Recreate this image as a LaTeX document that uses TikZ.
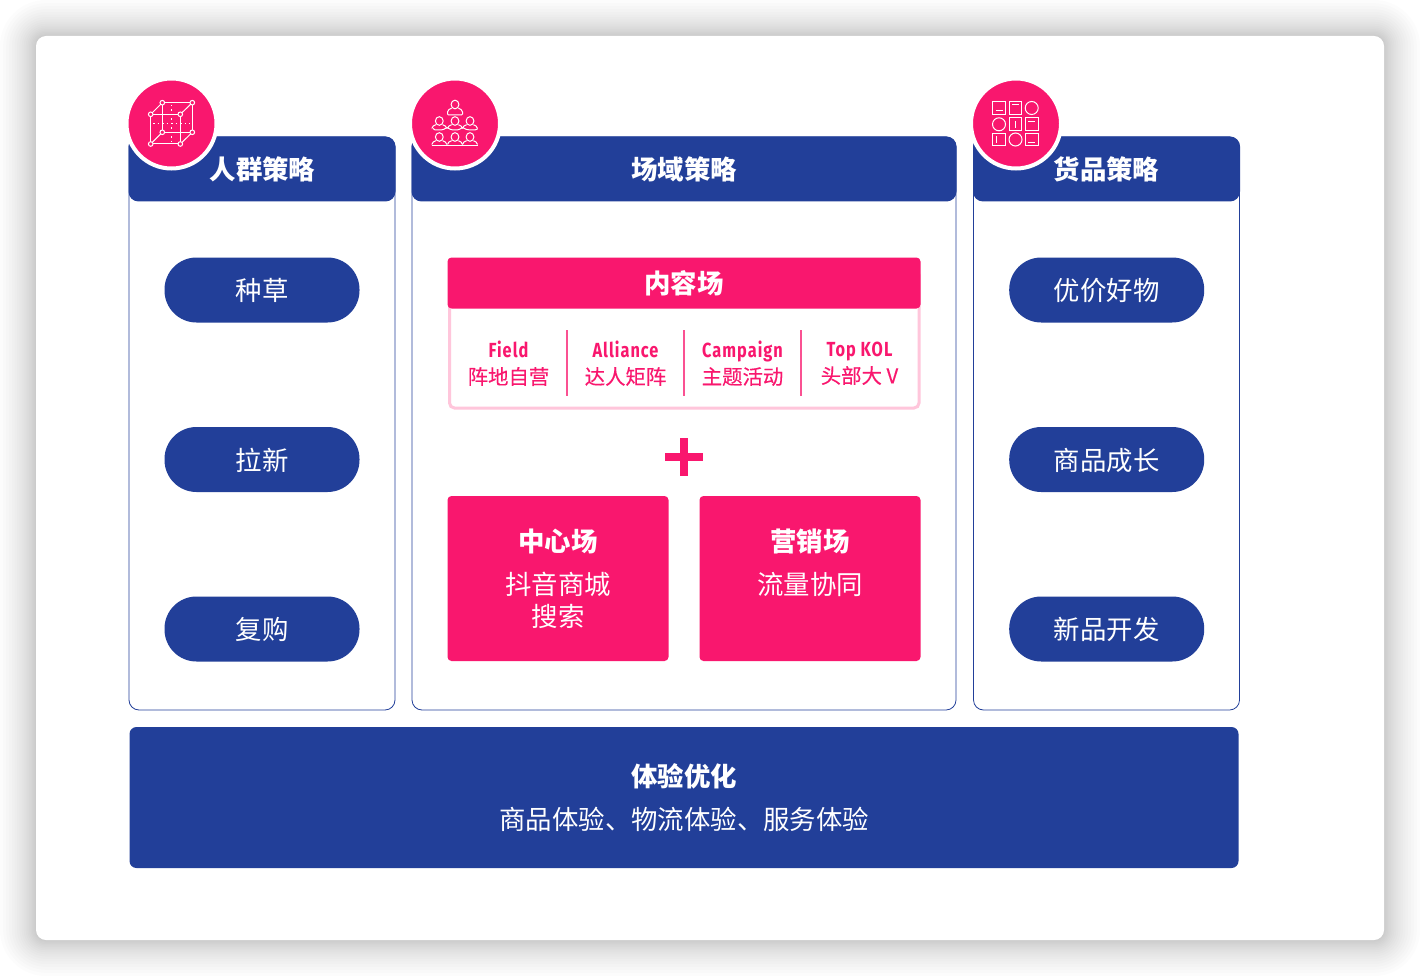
\documentclass[tikz,border=0pt]{standalone}
\usepackage{fontspec}
\setmainfont{Noto Sans CJK SC}
\newfontfamily\din[FakeStretch=0.8, LetterSpace=5]{Fira Sans}
\newfontfamily\cnmed[FakeBold=0.3]{Noto Sans CJK SC}
\usetikzlibrary{positioning}
\definecolor{brandblue}{HTML}{223F99}
\definecolor{brandpink}{HTML}{F9176E}
\definecolor{palepink}{HTML}{FFC6DB}
\newcommand{\fs}[1]{\fontsize{#1}{#1}\selectfont}
\begin{document}
\begin{tikzpicture}[
    x=1pt, y=-1pt,
    panel/.style = {draw=brandblue, line width=0.8pt, fill=white, rounded corners=10pt,
      minimum height=573pt, outer sep=0pt},
    hdr/.style = {fill=brandblue, rounded corners=10pt, text=white,
      minimum height=65pt, outer sep=0pt},
    hdrtxt/.style = {text=white, font=\fs{26.4}\bfseries},
    pill/.style = {fill=brandblue, rounded corners=32pt, text=white, font=\fs{26.4},
      minimum width=195pt, minimum height=65pt, outer sep=0pt, text height=26pt, text depth=5pt},
    badge/.style = {circle, fill=brandpink, draw=white, line width=4pt, minimum size=90pt, outer sep=0pt},
    redbox/.style = {fill=brandpink, rounded corners=4pt, minimum width=221pt, minimum height=165pt, outer sep=0pt},
    redtxt/.style = {text=white, font=\fs{26.4}},
    small/.style = {text=brandpink, font=\fs{20.4}\cnmed, align=center, inner sep=0pt},
    icon/.style = {draw=white, line width=1pt},
    person/.pic = {
      \draw[icon] (0,-8.5) circle[x radius=3.9pt, y radius=4.3pt];
      \draw[icon] (-3.4,-4.8) .. controls (-5,-3.6) and (-7.5,-3.8) .. (-7.5,-1)
        (7.5,-1) .. controls (7.5,-3.8) and (5,-3.6) .. (3.4,-4.8);
    },
  ]
\useasboundingbox (0,0) rectangle (1420,976);
% card with its shadow
\foreach \i in {1,...,20} {
  \pgfmathsetmacro{\d}{36*(\i/20)^1.8}
  \fill[black, opacity=0.012, rounded corners=10pt+\d pt]
    ({36-\d},{36-\d}) rectangle ({1384+\d},{940+\d});
}
\fill[white, rounded corners=10pt] (36,36) rectangle (1384,940);
% panels
\node[panel, minimum width=266pt] (people) at (262,423.5) {};
\node[panel, minimum width=544pt] (field) at (684,423.5) {};
\node[panel, minimum width=266pt] (goods) at (1106.5,423.5) {};
\node[hdr, minimum width=267pt] (peopleH) at (262,169) {};
\node[hdr, minimum width=545pt] (fieldH) at (684,169) {};
\node[hdr, minimum width=267pt] (goodsH) at (1106.5,169) {};
\node[hdrtxt] (peopleT) at (262.5,169.3) {人群策略};
\node[hdrtxt] (fieldT) at (684,169.3) {场域策略};
\node[hdrtxt] (goodsT) at (1106.5,169.3) {货品策略};
% left and right pills
\foreach \y/\l/\r [count=\n] in {290/种草/优价好物, 459.5/拉新/商品成长, 629/复购/新品开发} {
  \node[pill] (a\n) at (262,\y) {\l};
  \node[pill] (c\n) at (1106.7,\y) {\r};
}
% content field
\draw[palepink, line width=3pt, rounded corners=5pt, fill=white]
  (449.5,270) rectangle (919,408);
\node[fill=brandpink, rounded corners=4pt, minimum width=473pt, minimum height=51pt, outer sep=0pt] (content) at (684,283) {};
\node[hdrtxt] (contentT) at (684,283.5) {内容场};
\foreach \x/\en/\cn [count=\n] in {508.5/Field/阵地自营, 625.5/Alliance/达人矩阵, 742.5/Campaign/主题活动, 859.5/Top KOL/头部大 V}
  \node[small] (s\n) at (\x,363.5) {{\din\bfseries\fs{20.4}\vphantom{Tpg}\en}\\[4pt]\vphantom{阵}\cn};
\foreach \x in {567,684,801}
  \draw[brandpink!75!white, line width=1.4pt] (\x,330) -- (\x,396);
% plus
\fill[brandpink] (665,452.8) rectangle (703,461.2);
\fill[brandpink] (679.8,438) rectangle (688.2,476);
% lower boxes
\node[redbox] (center) at (558,578.5) {};
\node[redbox] (market) at (810,578.5) {};
\node[hdrtxt] (centerT) at (558,541.5) {中心场};
\node[redtxt] (centerA) at (558.3,584.5) {抖音商城};
\node[redtxt] (centerB) at (558.3,616.5) {搜索};
\node[hdrtxt] (marketT) at (810,541.5) {营销场};
\node[redtxt] (marketA) at (810.3,584.5) {流量协同};
% bottom bar
\node[fill=brandblue, rounded corners=7pt, minimum width=1109pt, minimum height=141pt, outer sep=0pt] (bar) at (684,797.5) {};
\node[hdrtxt] (barT) at (684,776.5) {体验优化};
\node[text=white, font=\fs{26.4}] (barA) at (684.3,819.5) {商品体验、物流体验、服务体验};
% badges
\node[badge] (b1) at (171.5,123.5) {};
\node[badge] (b2) at (455,123.5) {};
\node[badge] (b3) at (1016,123.5) {};
% cube
\draw[icon] (150.7,114.3) rectangle (180.3,144);
\draw[icon] (162.3,102.7) rectangle (192.3,132.3);
\draw[icon] (150.7,114.3) -- (162.3,102.7) (180.3,114.3) -- (192.3,102.7)
  (150.7,144) -- (162.3,132.3) (180.3,144) -- (192.3,132.3);
\draw[icon, line width=0.8pt, dash pattern=on 1.5pt off 3pt] (171.5,105) -- (171.5,142) (153,123.5) -- (190,123.5);
\foreach \x/\y in {150.7/114.3, 180.3/114.3, 150.7/144, 180.3/144, 162.3/102.7, 192.3/102.7, 162.3/132.3, 192.3/132.3}
  \draw[icon, fill=brandpink] (\x,\y) circle[radius=2.3pt];
% audience
\pic at (455,113) {person};
\draw[icon, rounded corners=1pt] (447.5,112) -- (447.5,115) -- (462.5,115) -- (462.5,112);
\foreach \x in {439.3,455,470} {
  \pic at (\x,129.5) {person};
  \pic at (\x,145.5) {person};
}
\draw[icon] (433,128.5) .. controls (433,130) and (436,130) .. (439.3,130)
  .. controls (443,130) and (445,129) .. (447,127.5)
  .. controls (449,129) and (451,130) .. (455,130)
  .. controls (459,130) and (460.5,129) .. (462.5,127.5)
  .. controls (465,129) and (467,130) .. (470,130)
  .. controls (474,130) and (477.5,130) .. (477.5,128.5);
\draw[icon] (431.7,145.5) -- (477.7,145.5);
% goods grid
\foreach \x/\y/\a/\b/\c/\e in {999/108/-3.5/3/3.5/3, 1015.5/108/-3.5/-3/3.5/-3, 1015.5/124.3/0/-3.5/0/3.5,
    1031.7/124.3/-3.5/-3/3.5/-3, 999/139.5/-3/-3.5/-3/3.5, 1031.7/139.5/-3.5/3/3.5/3} {
  \draw[icon] (\x-6.3,\y-6.3) rectangle (\x+6.3,\y+6.3);
  \draw[icon] (\x+\a,\y+\b) -- (\x+\c,\y+\e);
}
\foreach \x/\y in {1031.7/108, 999/124.3, 1015.5/139.5}
  \draw[icon] (\x,\y) circle[radius=6.5pt];
\end{tikzpicture}
\end{document}
